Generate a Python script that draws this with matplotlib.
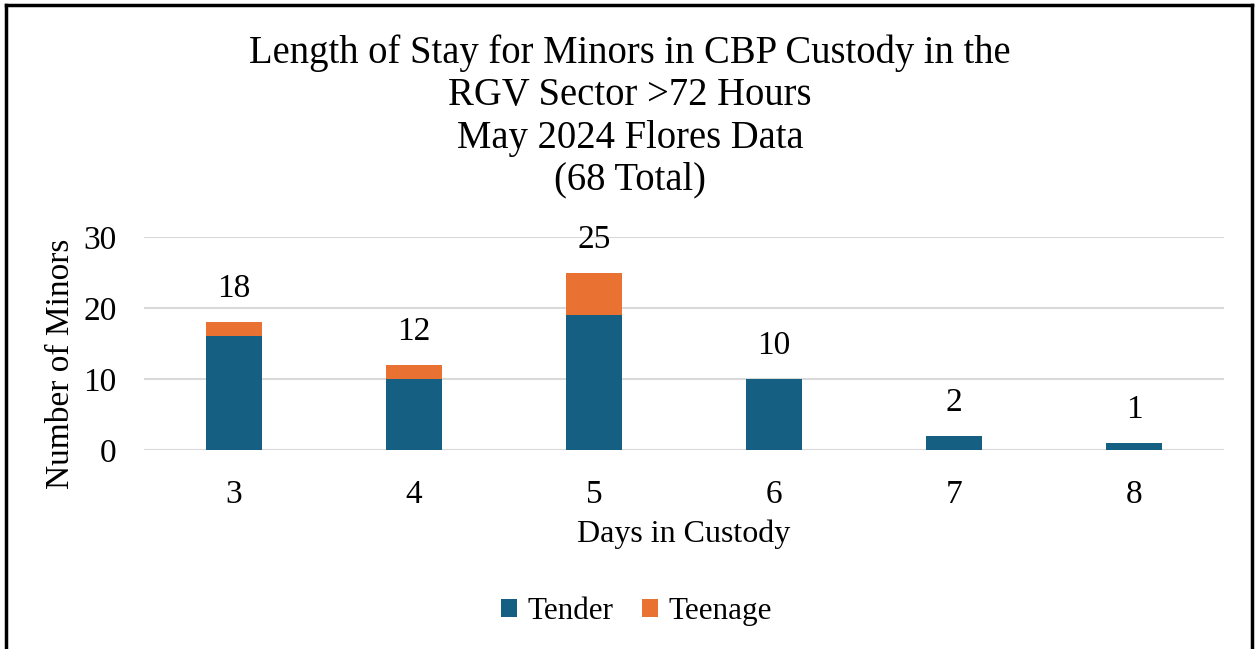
import matplotlib.pyplot as plt
from matplotlib.lines import Line2D
import numpy as np

plt.rcParams['font.family'] = ['Liberation Serif', 'DejaVu Serif']

days = ['3', '4', '5', '6', '7', '8']
tender = [16, 10, 19, 10, 2, 1]
teenage = [2, 2, 6, 0, 0, 0]
totals = [t + n for t, n in zip(tender, teenage)]

blue = '#156082'
orange = '#E97132'

fig = plt.figure(figsize=(12.55, 6.49), dpi=100)
ax = fig.add_axes([0.1147, 0.3066, 0.8606, 0.3282])

x = np.arange(len(days))
ax.bar(x, tender, width=0.31, color=blue, label='Tender', zorder=3)
ax.bar(x, teenage, width=0.31, bottom=tender, color=orange, label='Teenage', zorder=3)

for xi, tot in zip(x, totals):
    ax.text(xi, tot + 2.5, str(tot), ha='center', va='bottom', fontsize=24)

ax.set_xlim(-0.5, len(days) - 0.5)
ax.set_ylim(0, 30)
ax.set_yticks([0, 10, 20, 30])
ax.set_xticks(x)
ax.set_xticklabels(days)
ax.tick_params(axis='both', length=0, labelsize=24)
ax.tick_params(axis='x', pad=21)
ax.tick_params(axis='y', pad=19.5)
ax.grid(axis='y', color='#D9D9D9', linewidth=1.5, zorder=0)
for s in ax.spines.values():
    s.set_visible(False)

ax.set_xlabel('Days in Custody', fontsize=23, labelpad=7)
ax.set_ylabel('Number of Minors', fontsize=24)
ax.yaxis.set_label_coords(-0.063, 0.404)

fig.text(0.502, 0.947,
         'Length of Stay for Minors in CBP Custody in the\nRGV Sector >72 Hours\nMay 2024 Flores Data\n(68 Total)',
         ha='center', va='top', fontsize=27.8, linespacing=1.19)

ax.legend(loc='center', bbox_to_anchor=(0.456, -0.76), ncol=2, frameon=False,
          fontsize=22.4, handlelength=0.52, handleheight=0.52, columnspacing=0.9,
          handletextpad=0.35)

# border on left, top and right
lw = 2.5
fig.add_artist(Line2D([0.005, 0.005], [0.0, 0.993], color='black', lw=lw))
fig.add_artist(Line2D([0.005, 0.998], [0.993, 0.993], color='black', lw=lw))
fig.add_artist(Line2D([0.998, 0.998], [0.0, 0.993], color='black', lw=lw))

fig.savefig('out.png', dpi=100)
